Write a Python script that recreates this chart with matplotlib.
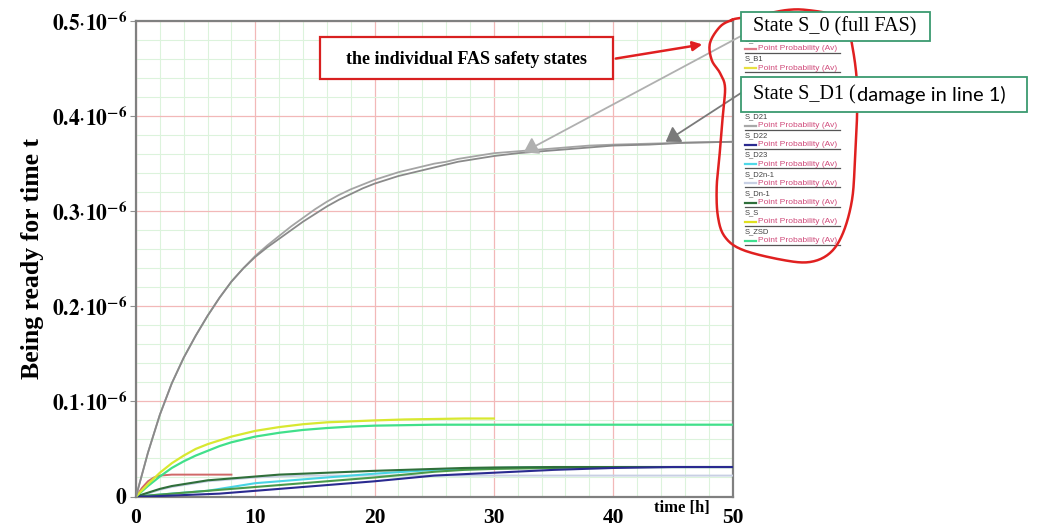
import numpy as np
import matplotlib
matplotlib.use("Agg")
import matplotlib.pyplot as plt
from matplotlib.lines import Line2D
from matplotlib.patches import Rectangle

plt.rcParams['mathtext.fontset'] = 'stix'

W, H = 1041, 529

# ---------------- data (values in units of 1e-6) ----------------
big_t = [0, 1, 2, 3, 4, 5, 6, 7, 8, 9, 10, 11, 12, 13, 14, 15, 16, 17, 18, 19, 20,
         21, 22, 23, 24, 25, 26, 27, 28, 29, 30, 32, 34, 36, 38, 40, 43, 46, 50]
s_0 = [0, 0.046, 0.086, 0.119, 0.146, 0.169, 0.190, 0.209, 0.226, 0.240, 0.253,
       0.264, 0.274, 0.284, 0.293, 0.302, 0.310, 0.317, 0.323, 0.328, 0.333,
       0.337, 0.341, 0.344, 0.347, 0.350, 0.352, 0.355, 0.357, 0.359, 0.361,
       0.363, 0.365, 0.367, 0.369, 0.370, 0.371, 0.372, 0.373]
s_d1 = [0, 0.046, 0.086, 0.119, 0.146, 0.169, 0.190, 0.209, 0.226, 0.240, 0.252,
        0.262, 0.271, 0.280, 0.289, 0.297, 0.305, 0.312, 0.318, 0.324, 0.329,
        0.333, 0.337, 0.340, 0.343, 0.346, 0.349, 0.352, 0.354, 0.356, 0.358,
        0.361, 0.363, 0.365, 0.367, 0.369, 0.370, 0.372, 0.373]

low_t = [0, 1, 2, 3, 4, 5, 6, 7, 8, 9, 10, 12, 14, 16, 18, 20, 22.5, 25, 27.5, 30,
         35, 40, 45, 50]
s_zsd = [0, 0.011, 0.021, 0.030, 0.037, 0.043, 0.048, 0.053, 0.057, 0.060, 0.063,
         0.067, 0.070, 0.072, 0.0735, 0.0745, 0.075, 0.0755, 0.0755, 0.0755,
         0.0755, 0.0755, 0.0755, 0.0755]
s_d2n1 = [0, 0.003, 0.007, 0.010, 0.012, 0.014, 0.016, 0.017, 0.018, 0.019, 0.020,
          0.021, 0.022, 0.022, 0.022, 0.022, 0.022, 0.022, 0.022, 0.022,
          0.022, 0.022, 0.022, 0.022]
s_dn1 = [0, 0.004, 0.008, 0.011, 0.013, 0.015, 0.017, 0.018, 0.019, 0.020, 0.021,
         0.023, 0.024, 0.025, 0.026, 0.027, 0.028, 0.029, 0.030, 0.0305,
         0.031, 0.031, 0.031, 0.031]
s_d2 = [0, 0.001, 0.002, 0.003, 0.004, 0.005, 0.006, 0.007, 0.008, 0.009, 0.010,
        0.012, 0.014, 0.016, 0.018, 0.020, 0.023, 0.026, 0.028, 0.029,
        0.030, 0.031, 0.031, 0.031]
s_d23 = [0, 0.001, 0.002, 0.003, 0.004, 0.005, 0.006, 0.008, 0.010, 0.012, 0.014,
         0.016, 0.018, 0.020, 0.022, 0.024, 0.026, 0.028, 0.029, 0.030,
         0.031, 0.031, 0.031, 0.031]
s_d22 = [0, 0, 0.0005, 0.001, 0.0015, 0.002, 0.0025, 0.003, 0.004, 0.005, 0.006,
         0.008, 0.010, 0.012, 0.014, 0.016, 0.019, 0.022, 0.0235, 0.025,
         0.028, 0.030, 0.031, 0.031]

ss_t = [0, 1, 2, 3, 4, 5, 6, 7, 8, 9, 10, 12, 14, 16, 18, 20, 22.5, 25, 27.5, 30]
s_s = [0, 0.013, 0.025, 0.035, 0.043, 0.050, 0.055, 0.059, 0.063, 0.066, 0.069,
       0.073, 0.076, 0.078, 0.079, 0.080, 0.081, 0.0815, 0.082, 0.082]

sb_t = [0, 0.5, 1, 1.5, 2, 3, 5, 8]
s_b = [0, 0.009, 0.016, 0.020, 0.022, 0.023, 0.023, 0.023]

x_ticks = [0, 10, 20, 30, 40, 50]
y_ticks = [0, 0.1, 0.2, 0.3, 0.4, 0.5]
y_ticklabels = [r'$\mathbf{0}$'] + [r'$\mathbf{%.1f}{\cdot}\mathbf{10}^{\mathbf{-6}}$' % v
                                    for v in y_ticks[1:]]

# legend slots (slot index -> name, colour); slots 0, 3, 4 lie under the boxes
legend_slots = [1, 2, 5, 6, 7, 8, 9, 10, 11]
legend_names = ['S_B', 'S_B1', 'S_D21', 'S_D22', 'S_D23', 'S_D2n-1', 'S_Dn-1', 'S_S', 'S_ZSD']
legend_colors = ['#e07a8a', '#e8e040', '#a8a8a8', '#2a2a90', '#50d8e8', '#c8d0e4',
                 '#2f6f3a', '#e0e020', '#40e090']

# ---------------- figure ----------------
fig = plt.figure(figsize=(W / 100, H / 100), dpi=100)
ax = fig.add_axes([136 / W, 1 - 496.5 / H, (732.5 - 136) / W, (496.5 - 21) / H])

ax.set_xlim(0, 50)
ax.set_ylim(0, 0.5)
ax.set_xticks(x_ticks)
ax.set_xticks(np.arange(0, 51, 2), minor=True)
ax.set_yticks(y_ticks)
ax.set_yticks(np.arange(0, 0.501, 0.02), minor=True)
ax.grid(which='minor', color='#dcf3dc', lw=0.8, zorder=0)
ax.grid(which='major', color='#f2b8b8', lw=0.9, zorder=0)
ax.set_axisbelow(True)

serif = 'Liberation Serif'
ax.set_xticklabels([str(v) for v in x_ticks], fontfamily=serif, fontweight='bold', fontsize=15.5)
ax.set_yticklabels(y_ticklabels, fontsize=15.5)
ax.tick_params(axis='x', which='both', length=0, pad=8)
ax.tick_params(axis='y', which='major', length=4, color='#909090', pad=2)
ax.tick_params(axis='y', which='minor', length=0)
for sp in ax.spines.values():
    sp.set_color('#808080')
    sp.set_linewidth(1.6)

ax.set_ylabel('Being ready for time t', fontfamily=serif, fontweight='bold', fontsize=18.5,
              labelpad=6)
fig.text(682 / W, 1 - 508 / H, 'time [h]', fontfamily=serif, fontweight='bold', fontsize=12,
         ha='center', va='center')

# curves
ax.plot(low_t, s_d2n1, color='#c8d0e4', lw=1.4, zorder=3)
ax.plot(sb_t, s_b, color='#d06868', lw=1.4, zorder=3)
ax.plot(low_t, s_d23, color='#48d4e4', lw=1.5, zorder=3)
ax.plot(low_t, s_d2, color='#4a9a4a', lw=1.5, zorder=3)
ax.plot(low_t, s_dn1, color='#2f6f3a', lw=1.5, zorder=3)
ax.plot(low_t, s_d22, color='#2a2a90', lw=1.5, zorder=3)
ax.plot(low_t, s_zsd, color='#40e08a', lw=1.6, zorder=3)
ax.plot(ss_t, s_s, color='#d8e830', lw=1.6, zorder=3)
ax.plot(big_t, s_0, color='#a4a4a4', lw=1.3, zorder=4)
ax.plot(big_t, s_d1, color='#8a8a8a', lw=1.3, zorder=4)

# ---------------- legend panel (figure pixels) ----------------
def fx(x):
    return x / W

def fy(y):
    return 1 - y / H

for slot, name, col in zip(legend_slots, legend_names, legend_colors):
    y0 = 40 + 19.2 * (slot - 1)
    fig.text(fx(745), fy(y0), name, fontfamily='Liberation Sans', fontsize=5.5,
             color='#404040', va='center', ha='left')
    fig.text(fx(758), fy(y0 + 9), 'Point Probability (Av)', fontfamily='Liberation Sans',
             fontsize=6, color='#d04a7a', va='center', ha='left')
    fig.add_artist(Line2D([fx(745), fx(756)], [fy(y0 + 9), fy(y0 + 9)], color=col, lw=1.6,
                          transform=fig.transFigure))
    fig.add_artist(Line2D([fx(745), fx(840)], [fy(y0 + 13), fy(y0 + 13)], color='#555555',
                          lw=0.9, transform=fig.transFigure))

# red loop around the legend
loop = np.array([(731.7, 20), (720, 26.7), (710, 43), (711.7, 60), (720, 73), (725, 87),
                 (723, 113), (720, 150), (716.7, 187), (718, 217), (725, 237), (743, 250),
                 (783, 260), (810, 262), (830, 253), (843, 233), (852, 200), (855, 160),
                 (857, 117), (857, 83), (853, 50), (847, 27), (833, 15), (807, 10),
                 (787, 10), (760, 15), (740, 18)])

def catmull(pts, n=12):
    out = []
    m = len(pts)
    for i in range(m):
        p0, p1, p2, p3 = pts[(i - 1) % m], pts[i], pts[(i + 1) % m], pts[(i + 2) % m]
        for s in np.linspace(0, 1, n, endpoint=False):
            out.append(0.5 * ((2 * p1) + (-p0 + p2) * s + (2 * p0 - 5 * p1 + 4 * p2 - p3) * s ** 2
                              + (-p0 + 3 * p1 - 3 * p2 + p3) * s ** 3))
    out.append(out[0])
    return np.array(out)

lp = catmull(loop)
fig.add_artist(Line2D(fx(lp[:, 0]), fy(lp[:, 1]), color='#e02020', lw=1.8,
                      transform=fig.transFigure, zorder=5))

# boxes with state names
def box(x0, y0, x1, y1, ec, lw=1.3):
    fig.add_artist(Rectangle((fx(x0), fy(y1)), (x1 - x0) / W, (y1 - y0) / H, facecolor='white',
                             edgecolor=ec, lw=lw, transform=fig.transFigure, zorder=8))

box(741, 12, 930, 41, '#3a9a70')
fig.text(fx(753), fy(27), 'State S_0 (full FAS)', fontfamily=serif, fontsize=14.5,
         va='center', ha='left', zorder=9)
box(741, 77, 1027, 112, '#3a9a70')
t1 = fig.text(fx(753), fy(95), 'State S_D1 (', fontfamily=serif, fontsize=14.5,
              va='center', ha='left', zorder=9)
fig.canvas.draw()
bb = t1.get_window_extent()
fig.text((bb.x1 + 1) / W, fy(95), 'damage in line 1)', fontfamily='Lato', fontsize=14.5,
         va='center', ha='left', zorder=9)

box(320, 37, 613, 79, '#d82020', lw=1.6)
fig.text(fx(466), fy(59), 'the individual FAS safety states', fontfamily=serif,
         fontweight='bold', fontsize=13, va='center', ha='center', zorder=9)

ax.annotate('', xy=(705, H - 44), xycoords='figure pixels', xytext=(613, H - 59),
            textcoords='figure pixels',
            arrowprops=dict(arrowstyle='-|>', color='#e02020', lw=1.8, mutation_scale=14))

# gray arrows from the state boxes to the curves
ax.annotate('', xy=(32.5, 0.362), xycoords='data', xytext=(741, H - 36),
            textcoords='figure pixels',
            arrowprops=dict(arrowstyle='-|>,head_length=0.6,head_width=0.4', color='#b0b0b0',
                            lw=1.3, mutation_scale=14, shrinkA=0, shrinkB=0), zorder=6)
ax.annotate('', xy=(44.4, 0.373), xycoords='data', xytext=(741, H - 93),
            textcoords='figure pixels',
            arrowprops=dict(arrowstyle='-|>,head_length=0.6,head_width=0.4', color='#7a7a7a',
                            lw=1.3, mutation_scale=14, shrinkA=0, shrinkB=0), zorder=6)

fig.savefig('out.png', dpi=100)
